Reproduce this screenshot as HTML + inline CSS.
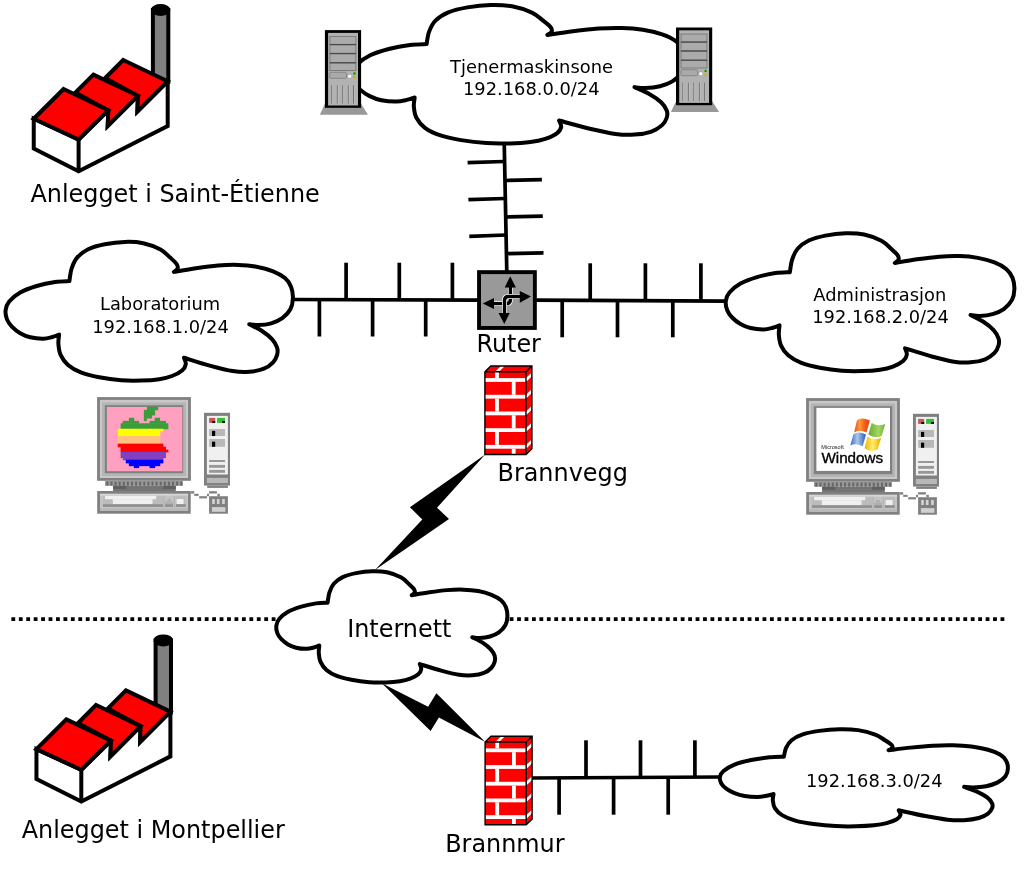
<!DOCTYPE html>
<html lang="nb">
<head>
<meta charset="utf-8">
<title>Nettverk</title>
<style>
html,body{margin:0;padding:0;background:#fff;}
body{width:1024px;height:871px;overflow:hidden;}
svg{display:block;will-change:transform;}
text{font-family:"DejaVu Sans","Liberation Sans",sans-serif;fill:#000;}
.big{font-size:23.9px;}
.sm{font-size:17.85px;text-anchor:middle;}
</style>
</head>
<body>
<svg width="1024" height="871" viewBox="0 0 1024 871">
<rect width="1024" height="871" fill="#fff"/>
<defs>

<g id="factory" stroke="#000" stroke-width="4" stroke-linejoin="miter">
<rect x="152.9" y="10" width="15.4" height="72" fill="#808080"/>
<ellipse cx="160.6" cy="10" rx="7.7" ry="4" fill="#000"/>
<path d="M33.75,118.75 L33.75,148.6 L78.6,171.2 L167.7,126 L167.7,81.25 L137.4,111.5 L137.9,95.8 L107.7,126 L108.3,110.3 L78.6,139.5 Z" fill="#fff"/>
<path d="M78.6,139.5 L78.6,171.2" fill="none"/>
<path d="M123.2,60 L167.7,81.25 L137.4,111.5 L137.9,95.8 L105.2,78 Z" fill="#f00"/>
<path d="M93.4,74.6 L137.9,95.8 L107.7,126 L108.3,110.3 L75.4,92.6 Z" fill="#f00"/>
<path d="M63.6,89 L108.3,110.3 L78.6,139.5 L33.75,118.75 Z" fill="#f00"/>
</g>

<g id="server">
<path d="M324.9,103.8 L361.1,103.8 L368,114.7 L319.8,114.7 Z" fill="#999"/>
<rect x="324.9" y="30.1" width="36.2" height="77.7" fill="#000"/>
<rect x="328.1" y="32.9" width="29.9" height="72.6" fill="#b2b2b2"/>
<rect x="329.9" y="36.6" width="26" height="7.7" fill="#ababab" stroke="#707070" stroke-width="0.8"/>
<rect x="329.9" y="45.0" width="26" height="8.2" fill="#ababab" stroke="#707070" stroke-width="0.8"/>
<rect x="329.9" y="54.0" width="26" height="8.4" fill="#ababab" stroke="#707070" stroke-width="0.8"/>
<rect x="329.9" y="63.2" width="26" height="7.4" fill="#ababab" stroke="#707070" stroke-width="0.8"/>
<rect x="329.7" y="44.3" width="26.4" height="0.7" fill="#333"/>
<rect x="329.7" y="53.25" width="26.4" height="0.7" fill="#333"/>
<rect x="329.7" y="62.449999999999996" width="26.4" height="0.7" fill="#333"/>
<rect x="329.7" y="72.3" width="16.8" height="6" rx="1" fill="#aaa" stroke="#777" stroke-width="0.7"/>
<rect x="347.9" y="74.6" width="3.7" height="3.4" fill="#fff" stroke="#888" stroke-width="0.4"/>
<circle cx="354.5" cy="73.5" r="1.2" fill="#00a000"/>
<circle cx="354.5" cy="77.2" r="1.2" fill="#c8b400"/>
<rect x="331.35" y="85.2" width="0.9" height="18.4" fill="#666"/>
<rect x="332.25" y="85.2" width="0.6" height="18.4" fill="#c4c4c4"/>
<rect x="336.85" y="85.2" width="0.9" height="18.4" fill="#666"/>
<rect x="337.75" y="85.2" width="0.6" height="18.4" fill="#c4c4c4"/>
<rect x="342.35" y="85.2" width="0.9" height="18.4" fill="#666"/>
<rect x="343.25" y="85.2" width="0.6" height="18.4" fill="#c4c4c4"/>
<rect x="347.85" y="85.2" width="0.9" height="18.4" fill="#666"/>
<rect x="348.75" y="85.2" width="0.6" height="18.4" fill="#c4c4c4"/>
<rect x="353.15000000000003" y="85.2" width="0.9" height="18.4" fill="#666"/>
<rect x="354.05" y="85.2" width="0.6" height="18.4" fill="#c4c4c4"/>
</g>
<g id="firewall">
<path d="M484.9,371.7 L490.79999999999995,366.0 L531.9,366.0 L531.9,448.8 L526.0,454.5 L484.9,454.5 Z" fill="#f00"/>
<rect x="484.9" y="378.1" width="41.1" height="3.8" fill="#fff"/>
<path d="M526.0,378.1 L531.9,372.4 L531.9,376.2 L526.0,381.90000000000003 Z" fill="#fff"/>
<rect x="484.9" y="394.8" width="41.1" height="3.8" fill="#fff"/>
<path d="M526.0,394.8 L531.9,389.1 L531.9,392.9 L526.0,398.6 Z" fill="#fff"/>
<rect x="484.9" y="411.5" width="41.1" height="3.8" fill="#fff"/>
<path d="M526.0,411.5 L531.9,405.8 L531.9,409.6 L526.0,415.3 Z" fill="#fff"/>
<rect x="484.9" y="428.2" width="41.1" height="3.8" fill="#fff"/>
<path d="M526.0,428.2 L531.9,422.5 L531.9,426.3 L526.0,432.0 Z" fill="#fff"/>
<rect x="484.9" y="444.9" width="41.1" height="3.8" fill="#fff"/>
<path d="M526.0,444.9 L531.9,439.2 L531.9,443 L526.0,448.7 Z" fill="#fff"/>
<rect x="495.1" y="371.7" width="3.8" height="6.4" fill="#fff"/>
<rect x="511.8" y="381.9" width="3.8" height="12.9" fill="#fff"/>
<rect x="495.1" y="398.6" width="3.8" height="12.9" fill="#fff"/>
<rect x="511.8" y="415.3" width="3.8" height="12.9" fill="#fff"/>
<rect x="495.1" y="432" width="3.8" height="12.9" fill="#fff"/>
<rect x="511.8" y="448.7" width="3.8" height="5.8" fill="#fff"/>
<path d="M495.1,371.7 L501.0,366.0 L504.79999999999995,366.0 L498.9,371.7 Z" fill="#fff"/>
<path d="M484.9,371.7 L490.79999999999995,366.0 L531.9,366.0 L531.9,448.8 L526.0,454.5 L484.9,454.5 Z M484.9,371.7 L526.0,371.7 L526.0,454.5 M526.0,371.7 L531.9,366.0" fill="none" stroke="#000" stroke-width="1.4" stroke-linejoin="miter"/>
</g>
</defs>

<line x1="11.4" y1="619.1" x2="1006" y2="619.1" stroke="#000" stroke-width="3.9" stroke-dasharray="3.8 3.637"/>
<line x1="290" y1="299.5" x2="480" y2="300.1" stroke="#000" stroke-width="3.7"/>
<line x1="346.1" y1="262.7" x2="346.1" y2="300" stroke="#000" stroke-width="3.7"/>
<line x1="399.3" y1="262.7" x2="399.3" y2="300" stroke="#000" stroke-width="3.7"/>
<line x1="452.4" y1="262.7" x2="452.4" y2="300" stroke="#000" stroke-width="3.7"/>
<line x1="319.4" y1="300" x2="319.4" y2="336.5" stroke="#000" stroke-width="3.7"/>
<line x1="372.6" y1="300" x2="372.6" y2="336.5" stroke="#000" stroke-width="3.7"/>
<line x1="425.7" y1="300" x2="425.7" y2="336.5" stroke="#000" stroke-width="3.7"/>
<line x1="534" y1="300.2" x2="728" y2="301.2" stroke="#000" stroke-width="3.7"/>
<line x1="590.2" y1="263.3" x2="590.2" y2="301" stroke="#000" stroke-width="3.7"/>
<line x1="645.4" y1="263.3" x2="645.4" y2="301" stroke="#000" stroke-width="3.7"/>
<line x1="700.9" y1="263.3" x2="700.9" y2="301" stroke="#000" stroke-width="3.7"/>
<line x1="562.2" y1="300.5" x2="562.2" y2="337.3" stroke="#000" stroke-width="3.7"/>
<line x1="617.5" y1="300.5" x2="617.5" y2="337.3" stroke="#000" stroke-width="3.7"/>
<line x1="672.8" y1="300.5" x2="672.8" y2="337.3" stroke="#000" stroke-width="3.7"/>
<line x1="504.2" y1="142" x2="506.8" y2="272" stroke="#000" stroke-width="3.7"/>
<line x1="467.6" y1="162.7" x2="504.3" y2="161.5" stroke="#000" stroke-width="3.7"/>
<line x1="468.4" y1="199.7" x2="505" y2="198.5" stroke="#000" stroke-width="3.7"/>
<line x1="469.3" y1="236.4" x2="505.8" y2="235" stroke="#000" stroke-width="3.7"/>
<line x1="504.9" y1="180.5" x2="541.9" y2="179.6" stroke="#000" stroke-width="3.7"/>
<line x1="505.7" y1="217" x2="542.8" y2="216.1" stroke="#000" stroke-width="3.7"/>
<line x1="506.4" y1="253.6" x2="543.5" y2="252.8" stroke="#000" stroke-width="3.7"/>
<line x1="530" y1="778" x2="722" y2="777" stroke="#000" stroke-width="3.7"/>
<line x1="586" y1="740.3" x2="586" y2="777.6" stroke="#000" stroke-width="3.7"/>
<line x1="640.5" y1="740.3" x2="640.5" y2="777.6" stroke="#000" stroke-width="3.7"/>
<line x1="694.9" y1="740.3" x2="694.9" y2="777.6" stroke="#000" stroke-width="3.7"/>
<line x1="559.1" y1="777.6" x2="559.1" y2="814.7" stroke="#000" stroke-width="3.7"/>
<line x1="613.6" y1="777.6" x2="613.6" y2="814.7" stroke="#000" stroke-width="3.7"/>
<line x1="668.2" y1="777.6" x2="668.2" y2="814.7" stroke="#000" stroke-width="3.7"/>
<path d="M426.58,44.12 C427.01,42.04 427.64,35.55 429.13,31.64 C430.61,27.73 432.29,23.88 435.49,20.67 C438.68,17.46 443,14.6 448.32,12.38 C453.64,10.17 460.33,8.63 467.4,7.39 C474.47,6.16 483.32,5.18 490.75,5 C498.19,4.82 505.17,5.03 512.03,6.3 C518.89,7.56 526.73,10.19 531.92,12.58 C537.1,14.98 540.03,18.25 543.13,20.67 C546.23,23.08 549.1,25.22 550.53,27.05 C551.96,28.88 552.21,30.33 551.69,31.64 C551.17,32.96 548.12,34.39 547.41,34.94 L547.41,34.94 C551.65,34.32 564.35,32.31 572.85,31.24 C581.34,30.18 590.25,29.1 598.4,28.55 C606.55,28 614.34,27.75 621.75,27.95 C629.17,28.15 636.19,28.68 642.91,29.75 C649.64,30.81 656.61,32.44 662.11,34.34 C667.6,36.23 672.4,38.53 675.87,41.12 C679.33,43.72 681.4,46.59 682.92,49.9 C684.44,53.21 685.12,57.3 685,60.98 C684.88,64.65 684.27,68.6 682.23,71.95 C680.18,75.31 676.46,78.76 672.74,81.14 C669.02,83.51 664.52,85.08 659.91,86.22 C655.3,87.37 649.35,87.87 645.11,88.02 C640.87,88.17 636.25,87.27 634.47,87.12 L634.47,87.12 C636.94,88.25 644.84,91.4 649.27,93.91 C653.7,96.42 658.16,99.43 661.07,102.19 C663.98,104.95 665.79,107.88 666.73,110.47 C667.68,113.07 667.5,115.31 666.73,117.76 C665.96,120.2 664.65,122.84 662.11,125.14 C659.56,127.43 656.08,129.95 651.47,131.53 C646.86,133.11 640.49,134.22 634.47,134.62 C628.46,135.02 622.83,134.9 615.4,133.92 C607.96,132.94 599.23,130.96 589.84,128.73 C580.46,126.5 564.21,121.91 559.09,120.55 L559.09,120.55 C559.43,121.61 561.53,124.81 561.17,126.94 C560.8,129.06 559.55,131.34 556.89,133.32 C554.23,135.3 549.62,137.36 545.21,138.81 C540.8,140.26 536.31,141.24 530.41,142 C524.52,142.77 517.15,143.22 509.83,143.4 C502.51,143.58 494.61,143.65 486.48,143.1 C478.34,142.55 468.82,141.42 461.04,140.11 C453.25,138.79 445.78,137.26 439.76,135.22 C433.75,133.17 428.86,130.74 424.96,127.83 C421.07,124.92 418.26,121.26 416.41,117.76 C414.56,114.25 414.15,110.14 413.86,106.78 C413.58,103.42 414.54,99.13 414.67,97.6 L414.67,97.4 C413.36,97.82 409.88,99.2 406.81,99.89 C403.75,100.59 400.53,101.54 396.29,101.59 C392.05,101.64 385.81,101.11 381.37,100.19 C376.94,99.28 373.24,97.87 369.7,96.1 C366.15,94.34 362.64,91.91 360.1,89.62 C357.56,87.32 355.65,85.08 354.43,82.33 C353.22,79.59 352.39,76.11 352.82,73.15 C353.24,70.19 354.16,67.51 356.98,64.57 C359.79,61.63 364.4,58.09 369.7,55.49 C375,52.9 382.05,50.75 388.77,49 C395.5,47.26 403.75,45.83 410.05,45.01 C416.35,44.2 423.83,44.26 426.58,44.12 Z" fill="#fff" stroke="#000" stroke-width="4.0" stroke-linejoin="round"/>
<path d="M69.4,281.1 C69.77,279.02 70.32,272.52 71.6,268.6 C72.88,264.68 74.33,260.82 77.1,257.6 C79.87,254.38 83.6,251.52 88.2,249.3 C92.8,247.08 98.58,245.53 104.7,244.3 C110.82,243.07 118.47,242.08 124.9,241.9 C131.33,241.72 137.37,241.93 143.3,243.2 C149.23,244.47 156.02,247.1 160.5,249.5 C164.98,251.9 167.52,255.18 170.2,257.6 C172.88,260.02 175.37,262.17 176.6,264 C177.83,265.83 178.05,267.28 177.6,268.6 C177.15,269.92 174.52,271.35 173.9,271.9 L173.9,271.9 C177.57,271.28 188.55,269.27 195.9,268.2 C203.25,267.13 210.95,266.05 218,265.5 C225.05,264.95 231.78,264.7 238.2,264.9 C244.62,265.1 250.68,265.63 256.5,266.7 C262.32,267.77 268.35,269.4 273.1,271.3 C277.85,273.2 282,275.5 285,278.1 C288,280.7 289.78,283.58 291.1,286.9 C292.42,290.22 293,294.32 292.9,298 C292.8,301.68 292.27,305.63 290.5,309 C288.73,312.37 285.52,315.82 282.3,318.2 C279.08,320.58 275.18,322.15 271.2,323.3 C267.22,324.45 262.07,324.95 258.4,325.1 C254.73,325.25 250.73,324.35 249.2,324.2 L249.2,324.2 C251.33,325.33 258.17,328.48 262,331 C265.83,333.52 269.68,336.53 272.2,339.3 C274.72,342.07 276.28,345 277.1,347.6 C277.92,350.2 277.77,352.45 277.1,354.9 C276.43,357.35 275.3,360 273.1,362.3 C270.9,364.6 267.88,367.12 263.9,368.7 C259.92,370.28 254.4,371.4 249.2,371.8 C244,372.2 239.13,372.08 232.7,371.1 C226.27,370.12 218.72,368.13 210.6,365.9 C202.48,363.67 188.43,359.07 184,357.7 L184,357.7 C184.3,358.77 186.12,361.97 185.8,364.1 C185.48,366.23 184.4,368.52 182.1,370.5 C179.8,372.48 175.82,374.55 172,376 C168.18,377.45 164.3,378.43 159.2,379.2 C154.1,379.97 147.73,380.42 141.4,380.6 C135.07,380.78 128.23,380.85 121.2,380.3 C114.17,379.75 105.93,378.62 99.2,377.3 C92.47,375.98 86,374.45 80.8,372.4 C75.6,370.35 71.37,367.92 68,365 C64.63,362.08 62.2,358.42 60.6,354.9 C59,351.38 58.65,347.27 58.4,343.9 C58.15,340.53 58.98,336.23 59.1,334.7 L59.1,334.5 C57.97,334.92 54.95,336.3 52.3,337 C49.65,337.7 46.87,338.65 43.2,338.7 C39.53,338.75 34.13,338.22 30.3,337.3 C26.47,336.38 23.27,334.97 20.2,333.2 C17.13,331.43 14.1,329 11.9,326.7 C9.7,324.4 8.05,322.15 7,319.4 C5.95,316.65 5.23,313.17 5.6,310.2 C5.97,307.23 6.77,304.55 9.2,301.6 C11.63,298.65 15.62,295.1 20.2,292.5 C24.78,289.9 30.88,287.75 36.7,286 C42.52,284.25 49.65,282.82 55.1,282 C60.55,281.18 67.02,281.25 69.4,281.1 Z" fill="#fff" stroke="#000" stroke-width="4.0" stroke-linejoin="round"/>
<path d="M789.89,272.17 C790.26,270.1 790.81,263.64 792.1,259.75 C793.39,255.85 794.84,252.01 797.62,248.81 C800.4,245.61 804.15,242.76 808.77,240.56 C813.39,238.35 819.2,236.81 825.35,235.59 C831.49,234.36 839.18,233.38 845.64,233.2 C852.1,233.02 858.16,233.23 864.12,234.49 C870.08,235.75 876.9,238.37 881.4,240.76 C885.9,243.14 888.45,246.41 891.14,248.81 C893.84,251.21 896.34,253.35 897.57,255.17 C898.81,257 899.03,258.44 898.58,259.75 C898.13,261.06 895.48,262.48 894.86,263.03 L894.86,263.03 C898.54,262.41 909.58,260.41 916.96,259.35 C924.34,258.29 932.08,257.21 939.16,256.66 C946.24,256.12 953.01,255.87 959.45,256.07 C965.9,256.27 971.99,256.8 977.84,257.86 C983.68,258.92 989.74,260.54 994.51,262.43 C999.28,264.32 1003.45,266.61 1006.46,269.19 C1009.48,271.78 1011.27,274.64 1012.59,277.94 C1013.91,281.24 1014.5,285.31 1014.4,288.98 C1014.3,292.64 1013.76,296.57 1011.99,299.91 C1010.21,303.26 1006.98,306.69 1003.75,309.06 C1000.52,311.43 996.6,312.99 992.6,314.13 C988.6,315.27 983.43,315.77 979.74,315.92 C976.06,316.07 972.04,315.17 970.5,315.03 L970.5,315.03 C972.65,316.15 979.51,319.28 983.36,321.79 C987.21,324.29 991.08,327.29 993.61,330.04 C996.13,332.79 997.71,335.71 998.53,338.29 C999.35,340.88 999.2,343.11 998.53,345.55 C997.86,347.98 996.72,350.62 994.51,352.91 C992.3,355.19 989.27,357.69 985.27,359.27 C981.27,360.84 975.73,361.95 970.5,362.35 C965.28,362.75 960.39,362.63 953.93,361.66 C947.47,360.68 939.88,358.71 931.73,356.49 C923.57,354.26 909.46,349.69 905.01,348.33 L905.01,348.33 C905.31,349.39 907.13,352.57 906.82,354.7 C906.5,356.82 905.41,359.09 903.1,361.06 C900.79,363.03 896.79,365.09 892.95,366.53 C889.12,367.97 885.22,368.95 880.1,369.71 C874.97,370.47 868.58,370.92 862.21,371.1 C855.85,371.28 848.99,371.35 841.92,370.8 C834.86,370.26 826.59,369.13 819.82,367.82 C813.06,366.51 806.56,364.99 801.34,362.95 C796.12,360.91 791.86,358.49 788.48,355.59 C785.1,352.69 782.66,349.05 781.05,345.55 C779.44,342.05 779.09,337.96 778.84,334.61 C778.59,331.26 779.43,326.99 779.54,325.47 L779.54,325.27 C778.4,325.68 775.37,327.06 772.71,327.75 C770.05,328.45 767.25,329.39 763.57,329.44 C759.89,329.49 754.46,328.96 750.61,328.05 C746.76,327.14 743.55,325.73 740.47,323.97 C737.39,322.22 734.34,319.8 732.13,317.51 C729.92,315.22 728.26,312.99 727.21,310.25 C726.15,307.52 725.43,304.06 725.8,301.11 C726.17,298.16 726.97,295.49 729.42,292.56 C731.86,289.62 735.86,286.09 740.47,283.51 C745.07,280.92 751.2,278.79 757.04,277.05 C762.88,275.31 770.05,273.88 775.52,273.07 C781,272.26 787.49,272.32 789.89,272.17 Z" fill="#fff" stroke="#000" stroke-width="4.0" stroke-linejoin="round"/>
<path d="M327.6,602.63 C327.9,600.96 328.34,595.75 329.37,592.61 C330.41,589.47 331.57,586.37 333.8,583.79 C336.02,581.21 339.03,578.91 342.73,577.13 C346.43,575.36 351.08,574.11 356,573.12 C360.92,572.14 367.08,571.35 372.25,571.2 C377.43,571.05 382.28,571.23 387.05,572.24 C391.83,573.26 397.28,575.37 400.89,577.29 C404.5,579.22 406.53,581.85 408.69,583.79 C410.85,585.73 412.85,587.45 413.84,588.92 C414.83,590.39 415.01,591.55 414.65,592.61 C414.28,593.67 412.17,594.82 411.67,595.26 L411.67,595.26 C414.62,594.76 423.46,593.14 429.37,592.29 C435.28,591.43 441.48,590.57 447.15,590.12 C452.82,589.68 458.23,589.48 463.4,589.64 C468.56,589.8 473.44,590.23 478.12,591.09 C482.8,591.94 487.65,593.25 491.47,594.78 C495.29,596.3 498.63,598.14 501.04,600.23 C503.46,602.31 504.89,604.62 505.95,607.28 C507.01,609.94 507.48,613.23 507.4,616.19 C507.32,619.14 506.89,622.31 505.47,625.01 C504.05,627.71 501.46,630.47 498.87,632.38 C496.29,634.29 493.15,635.55 489.94,636.47 C486.74,637.39 482.6,637.8 479.65,637.92 C476.7,638.04 473.48,637.31 472.25,637.19 L472.25,637.19 C473.96,638.1 479.46,640.63 482.54,642.65 C485.63,644.66 488.72,647.08 490.75,649.3 C492.77,651.52 494.03,653.87 494.69,655.96 C495.35,658.04 495.23,659.85 494.69,661.81 C494.15,663.78 493.24,665.9 491.47,667.75 C489.7,669.59 487.28,671.61 484.07,672.88 C480.87,674.15 476.43,675.04 472.25,675.36 C468.06,675.68 464.15,675.59 458.97,674.8 C453.8,674.01 447.72,672.42 441.19,670.63 C434.66,668.84 423.36,665.15 419.79,664.06 L419.79,664.06 C420.04,664.91 421.5,667.48 421.24,669.19 C420.99,670.9 420.12,672.73 418.27,674.32 C416.42,675.91 413.21,677.57 410.14,678.73 C407.07,679.89 403.95,680.68 399.84,681.3 C395.74,681.91 390.62,682.27 385.53,682.42 C380.43,682.57 374.93,682.62 369.28,682.18 C363.62,681.74 356.99,680.83 351.58,679.77 C346.16,678.72 340.96,677.49 336.78,675.84 C332.59,674.2 329.19,672.25 326.48,669.91 C323.77,667.57 321.81,664.63 320.53,661.81 C319.24,658.99 318.96,655.69 318.76,652.99 C318.55,650.29 319.22,646.84 319.32,645.61 L319.32,645.45 C318.41,645.79 315.98,646.9 313.85,647.46 C311.72,648.02 309.48,648.78 306.53,648.82 C303.58,648.86 299.23,648.43 296.15,647.7 C293.07,646.96 290.49,645.83 288.03,644.41 C285.56,642.99 283.12,641.04 281.35,639.2 C279.58,637.35 278.25,635.55 277.41,633.35 C276.56,631.14 275.99,628.35 276.28,625.97 C276.58,623.59 277.22,621.44 279.18,619.07 C281.13,616.71 284.34,613.86 288.03,611.77 C291.71,609.69 296.62,607.97 301.3,606.56 C305.98,605.16 311.72,604.01 316.1,603.36 C320.49,602.7 325.69,602.75 327.6,602.63 Z" fill="#fff" stroke="#000" stroke-width="4.0" stroke-linejoin="round"/>
<path d="M783.86,756.65 C784.22,755.19 784.77,750.64 786.06,747.9 C787.35,745.15 788.8,742.45 791.57,740.19 C794.35,737.94 798.09,735.93 802.7,734.38 C807.31,732.83 813.11,731.74 819.24,730.88 C825.37,730.02 833.04,729.33 839.49,729.2 C845.94,729.07 851.99,729.22 857.94,730.11 C863.88,731 870.68,732.84 875.18,734.52 C879.67,736.2 882.21,738.5 884.9,740.19 C887.59,741.89 890.08,743.39 891.32,744.68 C892.55,745.96 892.77,746.98 892.32,747.9 C891.87,748.82 889.23,749.82 888.61,750.21 L888.61,750.21 C892.29,749.78 903.3,748.36 910.66,747.62 C918.03,746.87 925.75,746.11 932.82,745.73 C939.88,745.34 946.63,745.17 953.07,745.31 C959.5,745.45 965.58,745.82 971.41,746.57 C977.24,747.31 983.29,748.46 988.05,749.79 C992.81,751.12 996.97,752.73 999.98,754.55 C1002.99,756.37 1004.78,758.39 1006.1,760.71 C1007.42,763.04 1008,765.91 1007.9,768.49 C1007.8,771.07 1007.27,773.83 1005.49,776.19 C1003.72,778.55 1000.5,780.96 997.27,782.63 C994.05,784.3 990.14,785.4 986.15,786.2 C982.15,787.01 976.99,787.36 973.32,787.46 C969.64,787.57 965.63,786.94 964.09,786.83 L964.09,786.83 C966.23,787.63 973.08,789.83 976.92,791.6 C980.77,793.36 984.63,795.47 987.15,797.41 C989.67,799.35 991.24,801.4 992.06,803.22 C992.88,805.04 992.73,806.62 992.06,808.33 C991.39,810.05 990.26,811.9 988.05,813.51 C985.85,815.13 982.82,816.89 978.83,818 C974.84,819.11 969.31,819.89 964.09,820.17 C958.88,820.45 954,820.37 947.55,819.68 C941.1,818.99 933.54,817.6 925.4,816.04 C917.26,814.47 903.18,811.25 898.73,810.29 L898.73,810.29 C899.04,811.04 900.86,813.28 900.54,814.78 C900.22,816.27 899.14,817.87 896.83,819.26 C894.52,820.65 890.53,822.09 886.71,823.11 C882.88,824.12 878.99,824.81 873.87,825.35 C868.76,825.89 862.38,826.2 856.03,826.33 C849.68,826.46 842.83,826.51 835.78,826.12 C828.73,825.73 820.48,824.94 813.73,824.02 C806.98,823.1 800.5,822.02 795.28,820.59 C790.07,819.15 785.83,817.45 782.45,815.41 C779.08,813.36 776.64,810.8 775.03,808.33 C773.43,805.87 773.08,802.99 772.83,800.63 C772.58,798.27 773.41,795.26 773.53,794.19 L773.53,794.05 C772.39,794.34 769.37,795.31 766.71,795.8 C764.06,796.29 761.27,796.95 757.59,796.99 C753.92,797.02 748.5,796.65 744.66,796.01 C740.82,795.37 737.61,794.37 734.54,793.14 C731.46,791.9 728.42,790.2 726.22,788.58 C724.01,786.97 722.36,785.4 721.3,783.47 C720.25,781.55 719.53,779.11 719.9,777.03 C720.27,774.95 721.07,773.07 723.51,771.01 C725.95,768.94 729.94,766.46 734.54,764.63 C739.13,762.81 745.25,761.31 751.08,760.08 C756.91,758.86 764.06,757.85 769.52,757.28 C774.98,756.71 781.47,756.76 783.86,756.65 Z" fill="#fff" stroke="#000" stroke-width="4.0" stroke-linejoin="round"/>
<path d="M485.2,454.6 L409.9,507.2 L422.3,519.6 L375,570 L449,518.9 L437,507.7 Z" fill="#000"/>
<path d="M381.8,683.2 L428.1,706.8 L436.4,693.2 L485,741.7 L438.9,717.6 L430.6,731.1 Z" fill="#000"/>
<use href="#factory"/>
<use href="#factory" transform="translate(2.7,630.4)"/>
<use href="#server"/>
<use href="#server" transform="translate(351.1,-2.6)"/>
<use href="#firewall"/>
<use href="#firewall" transform="translate(0.2,370.3)"/>
<g id="router">
<rect x="479.05" y="272.15" width="55.8" height="55.8" fill="#999" stroke="#000" stroke-width="3.9"/>
<path d="M494,303.6 L506.4,303.6 Q510.4,303.6 510.4,299.6 L510.4,287.6" fill="none" stroke="#fff" stroke-width="4.9"/>
<path d="M493,303.6 L506.4,303.6 Q510.4,303.6 510.4,299.6 L510.4,287" fill="none" stroke="#000" stroke-width="3.4"/>
<path d="M519.8,296.5 L508.5,296.5 Q504.5,296.5 504.5,300.5 L504.5,313.1" fill="none" stroke="#fff" stroke-width="4.9"/>
<path d="M520.5,296.5 L508.5,296.5 Q504.5,296.5 504.5,300.5 L504.5,314" fill="none" stroke="#000" stroke-width="3.4"/>
<path d="M510.2,276.2 L515.9,287.6 L504.7,287.6 Z M531,296.5 L519.8,302.7 L519.8,291.1 Z M504.3,324 L498.5,313.1 L509.7,313.1 Z M482.8,303.4 L494,297.9 L494,309 Z" fill="#000"/>
</g>
<defs>
<linearGradient id="gr" x1="0" y1="0" x2="1" y2="0"><stop offset="0" stop-color="#f04818"/><stop offset="0.35" stop-color="#ff9a38"/><stop offset="0.7" stop-color="#f05a18"/><stop offset="1" stop-color="#e84010"/></linearGradient>
<linearGradient id="gg" x1="0" y1="0" x2="1" y2="0"><stop offset="0" stop-color="#6aa838"/><stop offset="0.6" stop-color="#a0d860"/><stop offset="1" stop-color="#70b040"/></linearGradient>
<linearGradient id="gb" x1="0" y1="0" x2="1" y2="0"><stop offset="0" stop-color="#3a68c8"/><stop offset="0.45" stop-color="#a8c8ea"/><stop offset="1" stop-color="#3058c0"/></linearGradient>
<linearGradient id="gy" x1="0" y1="0" x2="1" y2="0"><stop offset="0" stop-color="#f0b008"/><stop offset="0.5" stop-color="#fff068"/><stop offset="1" stop-color="#e8a800"/></linearGradient>
<g id="pc">
<rect x="97.1" y="397.1" width="93.8" height="83.7" fill="#808080"/>
<rect x="99.9" y="399.9" width="88.2" height="78.1" fill="#c8c8c8"/>
<rect x="102" y="402.5" width="84" height="73.5" fill="#b4b4b4"/>
<rect x="104.8" y="405.2" width="78.4" height="68" fill="#808080"/>
<rect x="105" y="480.8" width="77.9" height="4.9" fill="#989898"/>
<rect x="106.4" y="481.6" width="2" height="4.1" fill="#686868"/>
<rect x="110.5" y="481.6" width="2" height="4.1" fill="#686868"/>
<rect x="114.6" y="481.6" width="2" height="4.1" fill="#686868"/>
<rect x="118.7" y="481.6" width="2" height="4.1" fill="#686868"/>
<rect x="122.8" y="481.6" width="2" height="4.1" fill="#686868"/>
<rect x="126.9" y="481.6" width="2" height="4.1" fill="#686868"/>
<rect x="131" y="481.6" width="2" height="4.1" fill="#686868"/>
<rect x="135.1" y="481.6" width="2" height="4.1" fill="#686868"/>
<rect x="139.2" y="481.6" width="2" height="4.1" fill="#686868"/>
<rect x="143.3" y="481.6" width="2" height="4.1" fill="#686868"/>
<rect x="147.4" y="481.6" width="2" height="4.1" fill="#686868"/>
<rect x="151.5" y="481.6" width="2" height="4.1" fill="#686868"/>
<rect x="155.6" y="481.6" width="2" height="4.1" fill="#686868"/>
<rect x="159.7" y="481.6" width="2" height="4.1" fill="#686868"/>
<rect x="163.8" y="481.6" width="2" height="4.1" fill="#686868"/>
<rect x="167.9" y="481.6" width="2" height="4.1" fill="#686868"/>
<rect x="172" y="481.6" width="2" height="4.1" fill="#686868"/>
<rect x="176.1" y="481.6" width="2" height="4.1" fill="#686868"/>
<rect x="180.2" y="481.6" width="2" height="4.1" fill="#686868"/>
<rect x="113.1" y="485.7" width="62.7" height="5.5" fill="#747474"/>
<rect x="113.1" y="485.7" width="13.2" height="3.3" fill="#606060"/>
<rect x="163.1" y="485.7" width="12.7" height="3.3" fill="#606060"/>
<rect x="97.2" y="491" width="93.5" height="22.7" fill="#808080"/>
<rect x="100" y="493.8" width="88.1" height="17.2" fill="#c4c4c4"/>
<rect x="100" y="493.8" width="88.1" height="1.8" fill="#d6d6d6"/>
<rect x="100" y="508.2" width="88.1" height="2.8" fill="#b8b8b8"/>
<rect x="102.9" y="495.8" width="60.1" height="8.4" fill="#bcbcbc"/>
<rect x="105" y="495.8" width="51.2" height="3.4" fill="#f0f0f0"/>
<rect x="112.8" y="499.2" width="39.7" height="5" fill="#f0f0f0"/>
<rect x="102.9" y="504.2" width="60.1" height="2.7" fill="#909090"/>
<rect x="165.2" y="501.5" width="7.8" height="2.7" fill="#b0b0b0"/>
<rect x="167.3" y="499" width="3.6" height="2.5" fill="#b0b0b0"/>
<rect x="165.2" y="504.2" width="7.8" height="2.7" fill="#909090"/>
<rect x="175.8" y="495.8" width="10" height="8.4" fill="#bcbcbc"/>
<rect x="176.6" y="499" width="7" height="5" fill="#f0f0f0"/>
<rect x="175.8" y="504.2" width="10" height="2.7" fill="#909090"/>
<rect x="163.6" y="495.8" width="1" height="12.2" fill="#b0b0b0"/>
<rect x="173.8" y="495.8" width="1" height="12.2" fill="#b0b0b0"/>
<rect x="190.7" y="491.2" width="3.5" height="2.4" fill="#808080"/>
<rect x="194.2" y="493.8" width="4.4" height="2.1" fill="#808080"/>
<rect x="199.2" y="496.2" width="7.8" height="2.2" fill="#808080"/>
<rect x="207" y="493.8" width="2.1" height="2.4" fill="#808080"/>
<rect x="209.1" y="491.2" width="7.8" height="2.3" fill="#808080"/>
<rect x="217.4" y="493.8" width="2.4" height="2.4" fill="#808080"/>
<rect x="209.1" y="496.2" width="18.8" height="17.5" fill="#808080"/>
<rect x="212.2" y="499" width="2.6" height="5" fill="#d4d4d4"/>
<rect x="216.9" y="499" width="2.6" height="5" fill="#d4d4d4"/>
<rect x="222.1" y="499" width="2.7" height="5" fill="#d4d4d4"/>
<rect x="211.9" y="507.1" width="13.5" height="4.7" fill="#d0d0d0"/>
<rect x="204" y="412.8" width="26" height="72.8" fill="#808080"/>
<rect x="207.2" y="485.6" width="20.7" height="2.3" fill="#808080"/>
<rect x="206.9" y="415.9" width="21" height="58.6" fill="#f0f0f0"/>
<rect x="206.9" y="477.9" width="21" height="5.1" fill="#b8b8b8"/>
<rect x="209.1" y="417.9" width="6.1" height="5" fill="#c85858"/>
<rect x="212.3" y="421" width="2.9" height="1.9" fill="#000"/>
<rect x="217.1" y="417.9" width="7.9" height="5" fill="#30c030"/>
<rect x="222.1" y="421" width="2.9" height="1.9" fill="#000"/>
<rect x="209.1" y="429" width="15.9" height="7" fill="#b8b8b8"/>
<rect x="212" y="430.9" width="3.2" height="5.1" fill="#000"/>
<rect x="209.1" y="439" width="15.9" height="7.8" fill="#b8b8b8"/>
<rect x="212" y="441.7" width="3.2" height="5.1" fill="#000"/>
<rect x="209.1" y="460" width="15.9" height="2" fill="#989898"/>
<rect x="209.1" y="464.9" width="15.9" height="2.9" fill="#989898"/>
<rect x="209.1" y="469.9" width="15.9" height="2.9" fill="#989898"/>
</g>
</defs>
<use href="#pc"/>
<rect x="106.9" y="407" width="75.4" height="64.2" fill="#ffa0c0"/>
<rect x="146.96" y="406.74" width="11.26" height="3.51" fill="#3c9c3c"/>
<rect x="143.86" y="409.84" width="11.26" height="5.58" fill="#3c9c3c"/>
<rect x="143.86" y="415" width="8.16" height="3.51" fill="#3c9c3c"/>
<rect x="143.86" y="418.1" width="3" height="3" fill="#3c9c3c"/>
<rect x="128.88" y="417.79" width="5.37" height="3.62" fill="#3c9c3c"/>
<rect x="154.71" y="417.79" width="5.37" height="3.62" fill="#3c9c3c"/>
<rect x="122.69" y="420.89" width="16.43" height="2.89" fill="#3c9c3c"/>
<rect x="149.55" y="420.89" width="16.43" height="2.89" fill="#3c9c3c"/>
<rect x="120.62" y="423.27" width="47.73" height="5.99" fill="#3c9c3c"/>
<rect x="117.73" y="428.74" width="45.66" height="2.58" fill="#ffff00"/>
<rect x="117.73" y="430.81" width="42.56" height="5.68" fill="#ffff00"/>
<rect x="117.73" y="435.98" width="42.56" height="8.16" fill="#ffc080"/>
<rect x="117.73" y="443.62" width="45.66" height="3.62" fill="#ff0000"/>
<rect x="120.62" y="446.72" width="45.35" height="3.41" fill="#ff0000"/>
<rect x="120.62" y="449.61" width="47.73" height="2.79" fill="#ff0000"/>
<rect x="120.62" y="451.88" width="45.35" height="6.3" fill="#8040c0"/>
<rect x="122.89" y="457.67" width="40.5" height="2.58" fill="#8040c0"/>
<rect x="125.79" y="459.74" width="37.6" height="3.62" fill="#0000ff"/>
<rect x="128.88" y="462.83" width="31.4" height="3.31" fill="#0000ff"/>
<rect x="133.84" y="465.62" width="5.27" height="2.48" fill="#0000ff"/>
<rect x="149.55" y="465.62" width="5.58" height="2.48" fill="#0000ff"/>
<use href="#pc" transform="translate(709,1)"/>
<rect x="816.4" y="407.9" width="73.6" height="63" fill="#fff"/>
<path d="M856.9,420.6 Q861,416.6 869.9,420.6 L866.5,432.6 Q859,428.8 854.1,432.4 Z" fill="url(#gr)"/>
<path d="M871.7,422.9 Q878,427.2 885.3,424.0 L881.7,436.0 Q875,439 868.3,434.6 Z" fill="url(#gg)"/>
<path d="M853.4,434.3 Q858.5,430.8 866.0,434.4 L862.7,446.3 Q855.5,442.4 850.3,445.6 Z" fill="url(#gb)"/>
<path d="M867.6,436.4 Q874,440.9 881.2,437.7 L877.6,449.6 Q871,452.8 864.5,448.2 Z" fill="url(#gy)"/>
<text x="821.3" y="449.3" textLength="22.5" lengthAdjust="spacingAndGlyphs" style="font-family:'Liberation Sans',sans-serif;font-size:4.6px;fill:#222">Microsoft</text>
<text x="821.4" y="462.7" textLength="61.8" lengthAdjust="spacingAndGlyphs" style="font-family:'Liberation Sans',sans-serif;font-size:15.2px;fill:#000;stroke:#000;stroke-width:0.35px">Windows</text>
<text class="big" x="30.4" y="201.6">Anlegget i Saint-Étienne</text>
<text class="sm" x="531.5" y="72.6">Tjenermaskinsone</text>
<text class="sm" x="531.3" y="95">192.168.0.0/24</text>
<text class="sm" x="160.1" y="309.7">Laboratorium</text>
<text class="sm" x="160.5" y="332.7">192.168.1.0/24</text>
<text class="sm" x="879.8" y="300.7">Administrasjon</text>
<text class="sm" x="880.5" y="323">192.168.2.0/24</text>
<text class="big" x="476.4" y="351.6">Ruter</text>
<text class="big" x="497.5" y="480.6">Brannvegg</text>
<text class="big" x="347.2" y="636.7">Internett</text>
<text class="big" x="21.7" y="837.6">Anlegget i Montpellier</text>
<text class="big" x="445.2" y="851.7">Brannmur</text>
<text class="sm" x="874.3" y="786.9">192.168.3.0/24</text>
</svg>
</body>
</html>
